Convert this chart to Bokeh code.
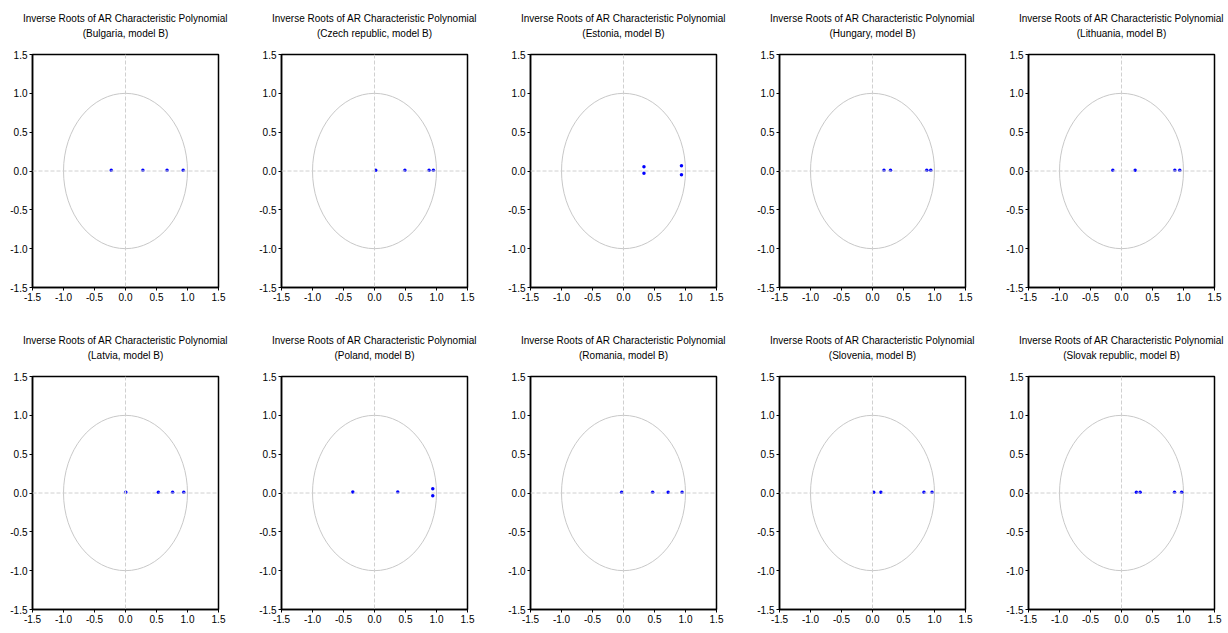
from bokeh.plotting import figure
from bokeh.layouts import gridplot
from bokeh.models import Title, Span, Range1d, FixedTicker
from bokeh.embed import file_html
from bokeh.resources import INLINE

main_title = "Inverse Roots of AR Characteristic Polynomial"
countries = ["Bulgaria", "Czech republic", "Estonia", "Hungary", "Lithuania",
             "Latvia", "Poland", "Romania", "Slovenia", "Slovak republic"]

tick_values = [-1.5, -1.0, -0.5, 0.0, 0.5, 1.0, 1.5]
tick_labels = ["-1.5", "-1.0", "-0.5", "0.0", "0.5", "1.0", "1.5"]

bulgaria_re = [-0.23, 0.28, 0.67, 0.93]
bulgaria_im = [0.01, 0.01, 0.01, 0.01]
czech_re = [0.02, 0.49, 0.88, 0.95]
czech_im = [0.01, 0.01, 0.01, 0.01]
estonia_re = [0.33, 0.33, 0.935, 0.935]
estonia_im = [0.056, -0.03, 0.069, -0.047]
hungary_re = [0.185, 0.29, 0.875, 0.94]
hungary_im = [0.01, 0.01, 0.01, 0.01]
lithuania_re = [-0.14, 0.22, 0.86, 0.94]
lithuania_im = [0.01, 0.01, 0.01, 0.01]
latvia_re = [0.005, 0.53, 0.76, 0.94]
latvia_im = [0.01, 0.01, 0.01, 0.01]
poland_re = [-0.35, 0.375, 0.94, 0.94]
poland_im = [0.013, 0.013, 0.056, -0.034]
romania_re = [-0.03, 0.47, 0.72, 0.945]
romania_im = [0.01, 0.01, 0.01, 0.01]
slovenia_re = [0.02, 0.135, 0.83, 0.96]
slovenia_im = [0.01, 0.01, 0.01, 0.01]
slovak_re = [0.24, 0.30, 0.855, 0.97]
slovak_im = [0.01, 0.01, 0.01, 0.01]

roots_re = [bulgaria_re, czech_re, estonia_re, hungary_re, lithuania_re,
            latvia_re, poland_re, romania_re, slovenia_re, slovak_re]
roots_im = [bulgaria_im, czech_im, estonia_im, hungary_im, lithuania_im,
            latvia_im, poland_im, romania_im, slovenia_im, slovak_im]

FONT = "Liberation Sans"
FW, FH = 186, 233


def title(text, standoff):
    return Title(text=text, align="center", text_font=FONT, text_font_size="10px",
                 text_font_style="normal", text_color="#000000", standoff=standoff)


figs = []
for i, name in enumerate(countries):
    col = i % 5
    rowi = i // 5
    p = figure(title=None, frame_width=FW, frame_height=FH,
               x_range=Range1d(-1.5, 1.5), y_range=Range1d(-1.5, 1.5),
               output_backend="svg", toolbar_location=None,
               min_border_left=32, min_border_right=(14 if col == 4 else 31),
               min_border_top=54,
               min_border_bottom=35 if rowi == 0 else 24)
    p.add_layout(title(" ", 1), "above")                       # spacer
    p.add_layout(title("(%s, model B)" % name, 4), "above")
    p.add_layout(title(main_title, 0), "above")
    p.xgrid.visible = False
    p.ygrid.visible = False
    p.outline_line_color = "#000000"
    p.outline_line_width = 1.5
    p.background_fill_color = "white"
    p.border_fill_color = "white"
    for ax in (p.xaxis[0], p.yaxis[0]):
        ax.ticker = FixedTicker(ticks=tick_values)
        ax.major_label_overrides = {v: l for v, l in zip(tick_values, tick_labels)}
        ax.axis_line_color = "#000000"
        ax.axis_line_width = 1.5
        ax.major_tick_line_color = "#000000"
        ax.major_tick_in = 0
        ax.major_tick_out = 3
        ax.minor_tick_line_color = None
        ax.major_label_text_font = FONT
        ax.major_label_text_font_size = "10px"
        ax.major_label_text_color = "#000000"
        ax.major_label_standoff = 2
    p.ellipse(x=[0], y=[0], width=[2], height=[2], fill_color=None,
              line_color="#c8c8c8", line_width=1)
    p.add_layout(Span(location=0, dimension="width", line_color="#d0d0d0",
                      line_dash="4 2", line_width=1))
    p.add_layout(Span(location=0, dimension="height", line_color="#d0d0d0",
                      line_dash="4 2", line_width=1))
    p.scatter(x=roots_re[i], y=roots_im[i], size=3.5, marker="circle",
              fill_color="#0000ff", line_color=None)
    figs.append(p)

grid = gridplot([figs[:5], figs[5:]], toolbar_location=None)
open("out.html", "w").write(file_html(grid, INLINE))
